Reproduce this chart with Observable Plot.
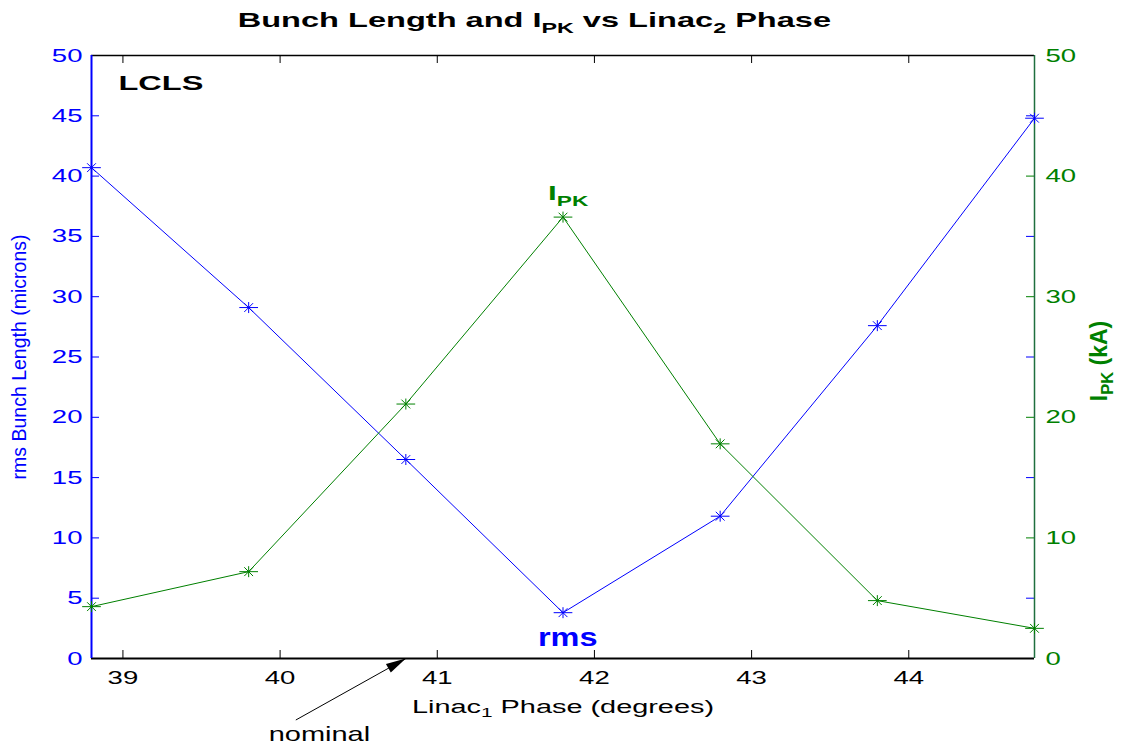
<!DOCTYPE html>
<html><head><meta charset="utf-8">
<script src="https://cdn.jsdelivr.net/npm/d3@7"></script>
<script src="https://cdn.jsdelivr.net/npm/@observablehq/plot@0.6"></script>
<style>
body{margin:0;background:#fff;}
#wrap{position:relative;width:1127px;height:747px;}
#title{position:absolute;left:0;top:7px;width:1068px;text-align:center;font:bold 21px "Liberation Sans",Arial,sans-serif;color:#000;line-height:26px;}
#title span{display:inline-block;transform:scaleX(1.55);transform-origin:center;}
#title sub{font-size:15px;vertical-align:-6px;line-height:0;}
</style></head><body><div id="wrap"><div id="title"><span>Bunch Length and I<sub>PK</sub> vs Linac<sub>2</sub> Phase</span></div></div>
<script>
// ---- data ----
const phase = [38.8, 39.8, 40.8, 41.8, 42.8, 43.8, 44.8];
const rmsLength = [40.7, 29.1, 16.5, 3.8, 11.8, 27.6, 44.8];
const peakCurrent = [4.3, 7.2, 21.1, 36.6, 17.8, 4.8, 2.5];
const xTicks = [39, 40, 41, 42, 43, 44];
const leftTicks = [0, 5, 10, 15, 20, 25, 30, 35, 40, 45, 50];
const rightTicks = [0, 10, 20, 30, 40, 50];
const rightMinorTicks = [5, 15, 25, 35, 45];
const xDomain = [38.8, 44.8];
const yDomain = [0, 50];
const nominalTail = [40.1, -5.1];
const nominalHead = [40.8, 0];

const BLUE = "#0000ff", GREEN = "#008000";
const W = 1127, H = 747, ML = 91, MR = 93, MT = 55, MB = 89;
const FW = W - ML - MR, FH = H - MT - MB;
const FONT = "'Liberation Sans', Arial, Helvetica, sans-serif";

const rows = phase.map((p, i) => ({phase: p, rms: rmsLength[i], ipk: peakCurrent[i]}));

const star = {draw(ctx, size) {
  const r = Math.sqrt(size / Math.PI), h = 1.7 * r, v = r, d = 0.8 * r;
  ctx.moveTo(-h, 0); ctx.lineTo(h, 0);
  ctx.moveTo(0, -v); ctx.lineTo(0, v);
  ctx.moveTo(-d, -d); ctx.lineTo(d, d);
  ctx.moveTo(-d, d); ctx.lineTo(d, -d);
}};
// filled arrow head with its tip at the symbol origin
const headAngle = Math.atan2(-62, 111);
const arrowHead = {draw(ctx) {
  const L = 20, hw = 5, ux = Math.cos(headAngle), uy = Math.sin(headAngle);
  const bx = -L * ux, by = -L * uy, px = -uy, py = ux;
  ctx.moveTo(0, 0);
  ctx.lineTo(bx + hw * px, by + hw * py);
  ctx.lineTo(bx - hw * px, by - hw * py);
  ctx.closePath();
}};

const chart = Plot.plot({
  width: W, height: H,
  marginLeft: ML, marginRight: MR, marginTop: MT, marginBottom: MB,
  style: {fontFamily: FONT, background: "#fff", overflow: "visible"},
  x: {domain: xDomain},
  y: {domain: yDomain},
  marks: [
    // ticks (inward)
    Plot.tickY(leftTicks, {y: d => d, stroke: BLUE, insetRight: FW - 8}),
    Plot.tickY(rightMinorTicks, {y: d => d, stroke: BLUE, insetLeft: FW - 8}),
    Plot.tickY(rightTicks, {y: d => d, stroke: GREEN, insetLeft: FW - 8}),
    Plot.tickX(xTicks, {x: d => d, stroke: "#000", insetBottom: FH - 8}),
    Plot.tickX(xTicks, {x: d => d, stroke: "#000", insetTop: FH - 8}),
    // frame sides
    Plot.ruleY([yDomain[1]], {stroke: "#000", strokeWidth: 1.5}),
    Plot.ruleY([yDomain[0]], {stroke: "#000", strokeWidth: 2}),
    Plot.ruleX([xDomain[0]], {stroke: BLUE, strokeWidth: 2}),
    Plot.ruleX([xDomain[1]], {stroke: "#1f6f3f", strokeWidth: 1.5}),
    // axes labels
    Plot.axisY({ticks: leftTicks, anchor: "left", tickSize: 0, tickPadding: 9, fontSize: 19, fill: BLUE, label: null}),
    Plot.axisY({ticks: rightTicks, anchor: "right", tickSize: 0, tickPadding: 11, fontSize: 19, fill: GREEN, label: null}),
    Plot.axisX({ticks: xTicks, tickFormat: d3.format("d"), anchor: "bottom", tickSize: 0, tickPadding: 12, fontSize: 19, fill: "#000", label: null}),
    // series
    Plot.line(rows, {x: "phase", y: "rms", stroke: BLUE, strokeWidth: 1}),
    Plot.line(rows, {x: "phase", y: "ipk", stroke: GREEN, strokeWidth: 1}),
    Plot.dot(rows, {x: "phase", y: "rms", symbol: star, r: 5.5, stroke: BLUE, fill: "none", strokeWidth: 1}),
    Plot.dot(rows, {x: "phase", y: "ipk", symbol: star, r: 5.5, stroke: GREEN, fill: "none", strokeWidth: 1}),
    // axis titles
    Plot.text(["rms Bunch Length (microns)"], {text: d => d, frameAnchor: "left", dx: -72, rotate: -90, textAnchor: "middle", lineAnchor: "middle", fill: BLUE, fontSize: 19.5}),
    Plot.text(["I_{PK} (kA)"], {text: d => d, frameAnchor: "right", dx: 65, dy: 4, rotate: -90, textAnchor: "middle", lineAnchor: "middle", fill: GREEN, fontSize: 23, fontWeight: "bold"}),
    Plot.text(["Linac_{1} Phase (degrees)"], {text: d => d, frameAnchor: "bottom", dy: 54, lineAnchor: "bottom", textAnchor: "middle", fill: "#000", fontSize: 19}),
    // annotations
    Plot.text(["LCLS"], {text: d => d, frameAnchor: "top-left", dx: 27, dy: 34, textAnchor: "start", lineAnchor: "bottom", fontSize: 21, fontWeight: "bold", fill: "#000"}),
    Plot.text(["I_{PK}"], {text: d => d, x: phase[3] - 0.095, y: 38.0, textAnchor: "start", lineAnchor: "bottom", fontSize: 21, fontWeight: "bold", fill: GREEN}),
    Plot.text(["rms"], {text: d => d, x: phase[3] + 0.03, y: 1.05, textAnchor: "middle", lineAnchor: "bottom", fontSize: 25, fontWeight: "bold", fill: BLUE}),
    Plot.link([0], {x1: nominalTail[0], y1: nominalTail[1], x2: nominalHead[0], y2: nominalHead[1], stroke: "#000", strokeWidth: 1}),
    Plot.dot([nominalHead], {x: d => d[0], y: d => d[1], symbol: arrowHead, r: 5, fill: "#000", stroke: "none"}),
    Plot.text(["nominal"], {text: d => d, x: nominalTail[0] + 0.15, y: nominalTail[1], dy: 21, lineAnchor: "bottom", textAnchor: "middle", fontSize: 20, fill: "#000"})
  ]
});

// horizontal stretch of (non-rotated) text, and subscripts
const stretch = {"rms": 1.3, "LCLS": 1.55, "I_{PK}": 1.5, "Linac_{1} Phase (degrees)": 1.52};
const noStretch = new Set(["rms Bunch Length (microns)", "I_{PK} (kA)"]);
d3.select(chart).selectAll("text").each(function() {
  const s = this.textContent;
  if (!noStretch.has(s)) {
    const k = stretch[s] || 1.45;
    const tr = this.getAttribute("transform") || "";
    this.setAttribute("transform", tr + ` scale(${k},1)`);
  }
  if (!s.includes("_{")) return;
  const parts = s.split(/(_\{[^}]*\})/);
  this.textContent = "";
  for (const p of parts) {
    if (!p) continue;
    const ts = d3.select(this).append("tspan");
    if (p.startsWith("_{")) ts.text(p.slice(2, -1)).attr("baseline-shift", "-35%").attr("font-size", "72%");
    else ts.text(p);
  }
});

document.getElementById("wrap").appendChild(chart);
</script></body></html>
